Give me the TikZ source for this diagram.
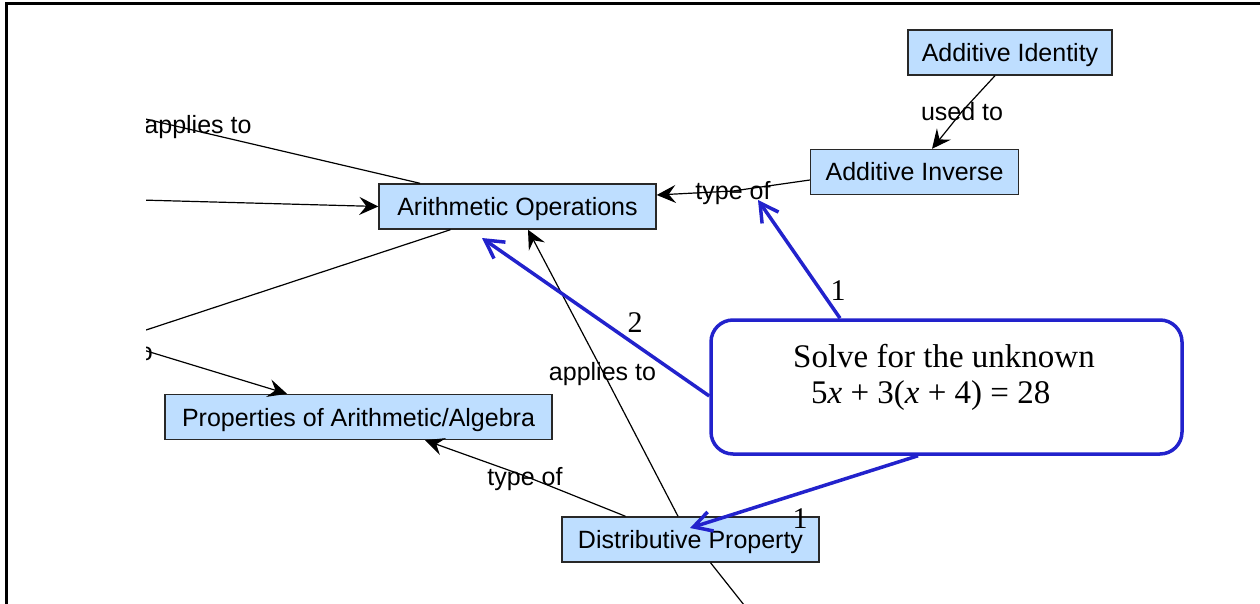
\documentclass[tikz,border=0pt]{standalone}
\usepackage{fontspec}
\setmainfont{Liberation Sans}
\newfontfamily\notefont{Liberation Serif}
\usetikzlibrary{arrows.meta}
\definecolor{conceptfill}{RGB}{190,222,255}
\definecolor{conceptline}{RGB}{40,40,40}
\definecolor{noteblue}{RGB}{34,34,204}
\begin{document}
\begin{tikzpicture}[x=1pt,y=-1pt,
  concept/.style={draw=conceptline,line width=1.4pt,fill=conceptfill,inner sep=0pt,
    minimum height=45pt,text height=18pt,text depth=0pt,font=\fontsize{25}{30}\selectfont},
  linklabel/.style={inner sep=0pt,text height=18pt,text depth=0pt,font=\fontsize{25}{30}\selectfont},
  link/.style={line width=1.2pt,black},
  linkarrow/.style={link,-{Stealth[length=19pt,width=18pt,inset=7pt]}},
  note/.style={draw=noteblue,line width=3.5pt,rounded corners=22pt,inner sep=0pt},
  notearrow/.style={noteblue,line width=3.5pt,-{Straight Barb[length=18pt,width=20pt]}},
  notetext/.style={inner sep=0pt,font=\notefont\fontsize{33}{36}\selectfont},
  count/.style={inner sep=0pt,font=\notefont\fontsize{30}{30}\selectfont}]

\useasboundingbox (0,0) rectangle (1260,604);

% page frame
\draw[line width=3pt] (6.5,604) -- (6.5,3.5) -- (1260,3.5);

% concepts
\node[concept,minimum width=204pt] (ai) at (1010,52.5) {Additive Identity};
\node[concept,minimum width=208pt] (av) at (914.5,172) {Additive Inverse};
\node[concept,minimum width=277pt] (ao) at (517.5,206.5) {Arithmetic Operations};
\node[concept,minimum width=387pt] (pa) at (358.5,417) {Properties of Arithmetic/Algebra};
\node[concept,minimum width=257pt] (dp) at (690.5,539.5) {Distributive Property};

% off-view ends of links
\coordinate (ctop) at (120,113);
\coordinate (cmid) at (140,200);
\coordinate (clow) at (140,332);
\coordinate (cpro) at (140,349);
\coordinate (cbot) at (748,610);

\begin{scope}
\clip (146,0) rectangle (1260,604);
% link labels
\node[linklabel] (lused) at (962,111.5) {used to};
\node[linklabel] (ltype1) at (733,191) {type of};
\node[linklabel] (lapply) at (602.5,371) {applies to};
\node[linklabel] (ltype2) at (525,476) {type of};
\node[linklabel] (lapplytop) at (198,125) {applies to};
\node[linklabel,anchor=east] (lapplyleft) at (153,351) {applies to};

% links
\draw[linkarrow] ([xshift=-15pt]ai.south) -- (lused.center) -- ([xshift=17.5pt]av.north);
\draw[linkarrow] ([yshift=-8pt]av.west) -- (ltype1.center) -- ([yshift=11.5pt]ao.east);
\draw[linkarrow] ([xshift=-12.5pt]dp.north) -- (lapply.center) -- ([xshift=10.5pt]ao.south);
\draw[linkarrow] ([xshift=-65pt]dp.north) -- (ltype2.center) -- ([xshift=66.5pt]pa.south);
\draw[link] ([xshift=20pt]dp.south) -- (cbot);
\draw[link] (ctop) -- ([xshift=-97.5pt]ao.north);
\draw[linkarrow] (cmid) -- (ao.west);
\draw[link] ([xshift=-67pt]ao.south) -- (clow);
\draw[linkarrow] (cpro) -- ([xshift=-71.5pt]pa.north);
\end{scope}

% note with its pointers
\node[note,minimum width=471pt,minimum height=134pt] (note) at (946.5,387) {};
\node[notetext,anchor=base west] (q1) at (793,367) {Solve for the unknown};
\node[notetext,anchor=base west] (q2) at (811,403) {5\textit{x} + 3(\textit{x} + 4) = 28};

\coordinate (t1) at (758,200);
\coordinate (t2) at (482,238);
\coordinate (t3) at (690,528);
\draw[notearrow] ([xshift=-106.5pt]note.north) -- (t1);
\draw[notearrow] ([yshift=-9pt]note.west) -- (t2);
\draw[notearrow] ([xshift=-28.5pt]note.south) -- (t3);

\node[count] (n1) at (838,291) {1};
\node[count] (n2) at (635,323) {2};
\node[count] (n3) at (800,519) {1};
\end{tikzpicture}
\end{document}
